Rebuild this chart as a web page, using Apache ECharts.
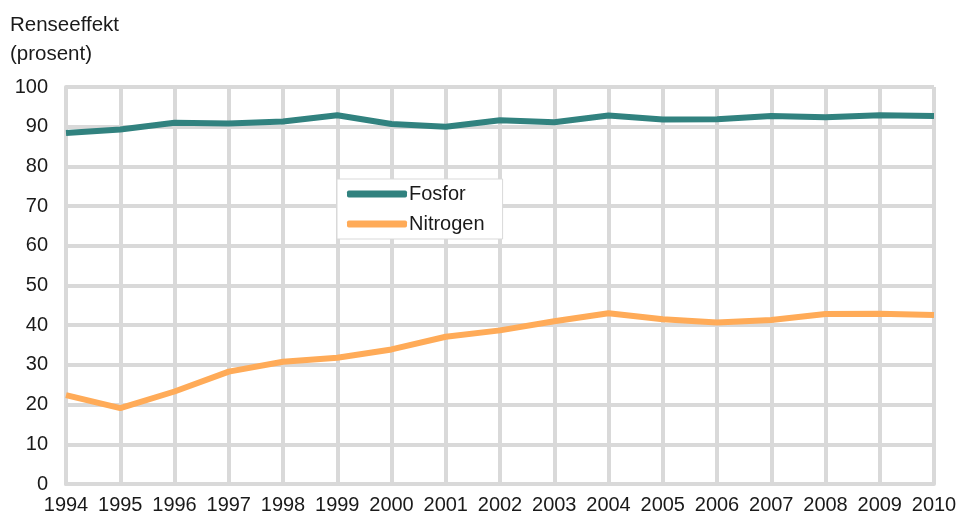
<!DOCTYPE html>
<html><head><meta charset="utf-8">
<script src="https://cdn.jsdelivr.net/npm/echarts@6/dist/echarts.min.js"></script>
<style>html,body{margin:0;padding:0;background:#fff}#c{width:960px;height:518px}</style>
</head><body><div id="c"></div>
<script>
const years = ['1994','1995','1996','1997','1998','1999','2000','2001','2002','2003','2004','2005','2006','2007','2008','2009','2010'];
const fosfor = [88.4, 89.3, 91.0, 90.8, 91.3, 92.9, 90.7, 90.0, 91.6, 91.1, 92.8, 91.8, 91.9, 92.7, 92.4, 92.9, 92.7];
const nitrogen = [22.4, 19.1, 23.3, 28.3, 30.8, 31.8, 33.9, 37.1, 38.7, 41.0, 43.0, 41.5, 40.7, 41.3, 42.8, 42.9, 42.6];
const yTicks = [0,10,20,30,40,50,60,70,80,90,100];

const chart = echarts.init(document.getElementById('c'));
const grid = '#d9d9d9';
const font = 'Liberation Sans, Arial, sans-serif';
chart.setOption({
  animation: false,
  textStyle: {fontFamily: font},
  title: {text: 'Renseeffekt\n(prosent)', left: 5, top: 6,
    textStyle: {fontSize: 20.5, fontWeight: 'normal', color: '#1a1a1a', lineHeight: 29, fontFamily: font}},
  grid: {left: 66, right: 26, top: 87, bottom: 34, containLabel: false},
  legend: {
    orient: 'vertical', left: 337, top: 179,
    padding: [5, 18, 5, 10], itemGap: 10,
    backgroundColor: '#fff', borderColor: '#d9d9d9', borderWidth: 1,
    itemWidth: 60, itemHeight: 7,
    icon: 'roundRect',
    textStyle: {fontSize: 20, color: '#1a1a1a', padding: [0,0,0,-3], fontFamily: font},
    data: ['Fosfor', 'Nitrogen']
  },
  xAxis: {
    type: 'category', data: years, boundaryGap: false,
    axisLine: {show: true, lineStyle: {color: grid, width: 4}},
    axisTick: {show: false},
    axisLabel: {fontSize: 20, color: '#1a1a1a', margin: 11, interval: 0, fontFamily: font},
    splitLine: {show: true, lineStyle: {color: grid, width: 4}}
  },
  yAxis: {
    type: 'value', min: yTicks[0], max: yTicks[yTicks.length-1], interval: 10,
    axisLine: {show: true, lineStyle: {color: grid, width: 4}},
    axisTick: {show: false},
    axisLabel: {fontSize: 20, color: '#1a1a1a', margin: 18, fontFamily: font},
    splitLine: {show: true, lineStyle: {color: grid, width: 4}}
  },
  series: [
    {name: 'Fosfor', type: 'line', data: fosfor, symbol: 'none', z: 3,
      lineStyle: {color: '#31827f', width: 6}, itemStyle: {color: '#31827f'}},
    {name: 'Nitrogen', type: 'line', data: nitrogen, symbol: 'none', z: 3,
      lineStyle: {color: '#ffab58', width: 6}, itemStyle: {color: '#ffab58'}}
  ]
});
</script></body></html>
